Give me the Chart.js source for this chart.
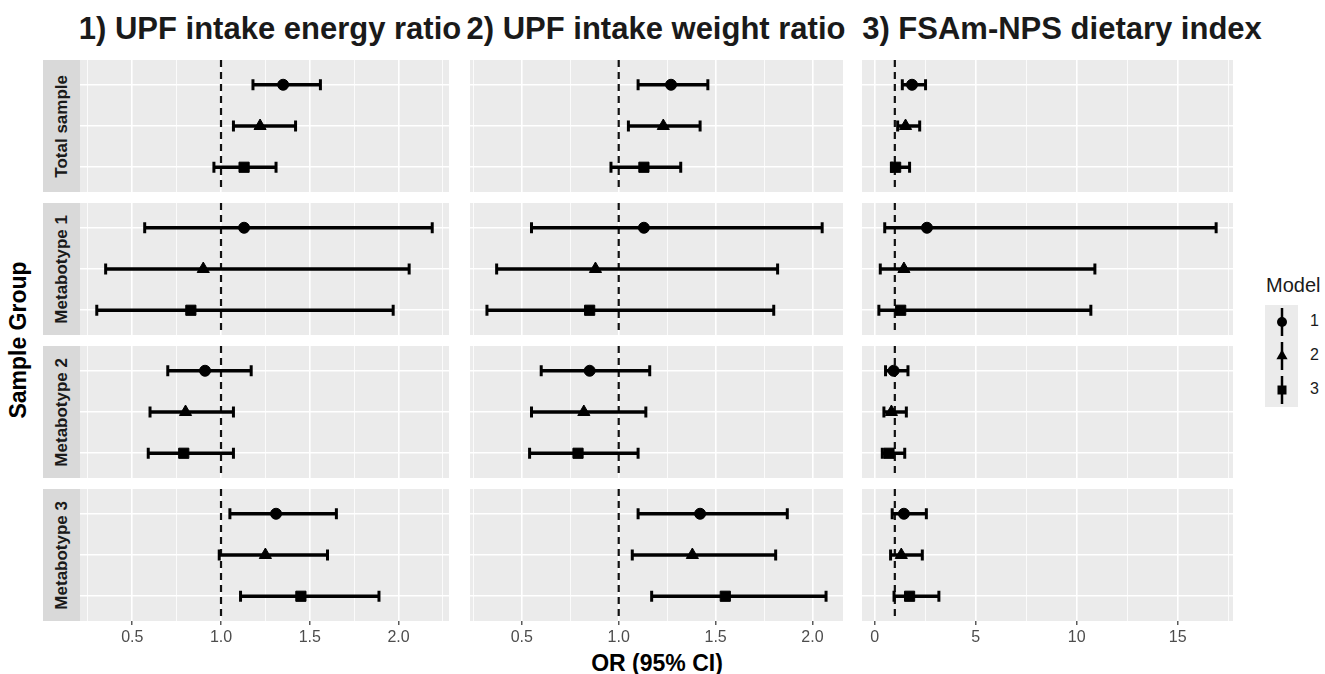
<!DOCTYPE html>
<html>
<head>
<meta charset="utf-8">
<script src="https://cdn.jsdelivr.net/npm/chart.js@4.4.0/dist/chart.umd.min.js"></script>
<style>
  body { margin: 0; background: #fff; font-family: 'Liberation Sans', Arial, sans-serif; }
  #fig { position: relative; width: 1325px; height: 674px; overflow: hidden; }
  .panel { position: absolute; }
  .col-title { position: absolute; top: 11px; transform: translateX(-50%); font-weight: bold; font-size: 31px; color: #1a1a1a; white-space: nowrap; }
  .strip { position: absolute; left: 43px; width: 37px; background: #d9d9d9; display: flex; align-items: center; justify-content: center; }
  .strip span { writing-mode: vertical-rl; transform: rotate(180deg); font-weight: bold; font-size: 17px; color: #1a1a1a; white-space: nowrap; }
  #ytitle { position: absolute; left: 18px; top: 340px; transform: translate(-50%, -50%) rotate(-90deg); font-weight: bold; font-size: 23px; white-space: nowrap; }
  #xtitle { position: absolute; left: 657px; top: 663px; transform: translate(-50%, -50%); font-weight: bold; font-size: 23px; white-space: nowrap; }
  #legend-title { position: absolute; left: 1266px; top: 274px; font-size: 20px; color: #1a1a1a; }
  .leg-lab { position: absolute; left: 1310px; font-size: 16px; color: #1a1a1a; }
  #legend-keys { position: absolute; left: 1265px; top: 305px; }
</style>
</head>
<body>
<div id="fig">
  <div id="ytitle">Sample Group</div>
  <div id="xtitle">OR (95% CI)</div>
  <div id="legend-title">Model</div>
  <svg id="legend-keys" width="34" height="103"></svg>
</div>
<script>
// facets
const measures = ['1) UPF intake energy ratio', '2) UPF intake weight ratio', '3) FSAm-NPS dietary index'];
const groups = ['Total sample', 'Metabotype 1', 'Metabotype 2', 'Metabotype 3'];
const models = ['1', '2', '3'];

// OR and 95% CI, rows = sample group, columns = model 1..3
const energyOR = [[1.35, 1.22, 1.13], [1.13, 0.90, 0.83], [0.91, 0.80, 0.79], [1.31, 1.25, 1.45]];
const energyLo = [[1.18, 1.07, 0.96], [0.57, 0.35, 0.30], [0.70, 0.60, 0.59], [1.05, 0.99, 1.11]];
const energyHi = [[1.56, 1.42, 1.31], [2.19, 2.06, 1.97], [1.17, 1.07, 1.07], [1.65, 1.60, 1.89]];

const weightOR = [[1.27, 1.23, 1.13], [1.13, 0.88, 0.85], [0.85, 0.82, 0.79], [1.42, 1.38, 1.55]];
const weightLo = [[1.10, 1.05, 0.96], [0.55, 0.37, 0.32], [0.60, 0.55, 0.54], [1.10, 1.07, 1.17]];
const weightHi = [[1.46, 1.42, 1.32], [2.05, 1.82, 1.80], [1.16, 1.14, 1.10], [1.87, 1.81, 2.07]];

const fsaOR = [[1.85, 1.53, 1.04], [2.59, 1.45, 1.29], [0.94, 0.83, 0.71], [1.45, 1.32, 1.73]];
const fsaLo = [[1.37, 1.14, 0.83], [0.50, 0.28, 0.21], [0.54, 0.46, 0.38], [0.87, 0.79, 0.96]];
const fsaHi = [[2.52, 2.23, 1.73], [16.9, 10.9, 10.7], [1.65, 1.57, 1.49], [2.56, 2.36, 3.18]];

// axis tick labels
const orTicks = [0.5, 1.0, 1.5, 2.0];
const fsaTicks = [0, 5, 10, 15];

const shapes = ['circle', 'triangle', 'rect'];
const shapeSize = [5.5, 7, 7.2];

const columns = [
  { est: energyOR, lo: energyLo, hi: energyHi, ticks: orTicks, digits: 1, left: 80, right: 449, titleX: 270 },
  { est: weightOR, lo: weightLo, hi: weightHi, ticks: orTicks, digits: 1, left: 470, right: 843, titleX: 656 },
  { est: fsaOR, lo: fsaLo, hi: fsaHi, ticks: fsaTicks, digits: 0, left: 862, right: 1233, titleX: 1062 }
];
const rowTops = [60, 203, 346, 489];
const rowH = 132;
const fig = document.getElementById('fig');

const panelBg = {
  id: 'panelBg',
  beforeDraw(chart) {
    const a = chart.chartArea, ctx = chart.ctx;
    ctx.save();
    ctx.fillStyle = '#ebebeb';
    ctx.fillRect(a.left, a.top, a.right - a.left, a.bottom - a.top);
    ctx.restore();
  }
};

function makePanel(ci, r) {
  const c = columns[ci];
  const all = c.lo.flat().concat(c.hi.flat());
  const dmin = Math.min(...all), dmax = Math.max(...all);
  const pad = (dmax - dmin) * 0.05;
  const xmin = dmin - pad, xmax = dmax + pad;
  const bottom = r === groups.length - 1;

  // major + minor grid positions
  const step = c.ticks[1] - c.ticks[0];
  const grid = [];
  for (let i = -1; i <= c.ticks.length; i++) {
    const v = c.ticks[0] + i * step;
    [v, v + step / 2].forEach(g => { if (g >= xmin && g <= xmax) grid.push(+g.toFixed(4)); });
  }
  const isMajor = v => c.ticks.some(t => Math.abs(t - v) < 1e-6);

  const box = document.createElement('div');
  box.className = 'panel';
  box.style.left = c.left + 'px';
  box.style.top = rowTops[r] + 'px';
  box.style.width = (c.right - c.left) + 'px';
  box.style.height = (rowH + (bottom ? 30 : 0)) + 'px';
  const cv = document.createElement('canvas');
  box.appendChild(cv);
  fig.appendChild(box);

  const datasets = [];
  models.forEach((m, i) => {
    datasets.push({
      data: [{ x: c.lo[r][i], y: i + 1 }, { x: c.hi[r][i], y: i + 1 }],
      showLine: true, borderColor: '#000', borderWidth: 3.5,
      pointStyle: 'line', rotation: 90, pointRadius: 5.5,
      pointBorderWidth: 3, pointBorderColor: '#000', order: 1
    });
  });
  datasets.push({
    data: models.map((m, i) => ({ x: c.est[r][i], y: i + 1 })),
    pointStyle: shapes, pointRadius: shapeSize,
    backgroundColor: '#000', borderColor: '#000', borderWidth: 1, order: 0
  });
  datasets.push({
    data: [{ x: 1, y: 0.4 }, { x: 1, y: models.length + 0.6 }],
    showLine: true, borderColor: '#111', borderWidth: 2.2, borderDash: [7, 5],
    pointRadius: 0, order: 2
  });

  new Chart(cv, {
    type: 'scatter',
    data: { datasets },
    options: {
      responsive: true, maintainAspectRatio: false, animation: false,
      layout: { padding: 0, autoPadding: false },
      plugins: { legend: { display: false }, tooltip: { enabled: false } },
      scales: {
        x: {
          type: 'linear', min: xmin, max: xmax,
          border: { display: false },
          afterBuildTicks: s => { s.ticks = grid.map(v => ({ value: v })); },
          afterFit: s => { s.height = bottom ? 30 : 0; },
          grid: {
            color: '#fff',
            lineWidth: ctx => isMajor(ctx.tick.value) ? 1.6 : 0.8,
            drawTicks: bottom, tickLength: 4, tickWidth: 1.2,
            tickColor: ctx => isMajor(ctx.tick.value) ? '#333' : 'rgba(0,0,0,0)'
          },
          ticks: {
            display: bottom, autoSkip: false, maxRotation: 0, padding: 3,
            color: '#4d4d4d', font: { size: 16, family: "'Liberation Sans', Arial" },
            callback: v => isMajor(v) ? v.toFixed(c.digits) : ''
          }
        },
        y: {
          type: 'linear', min: 0.4, max: models.length + 0.6, reverse: true,
          border: { display: false },
          afterBuildTicks: s => { s.ticks = models.map((m, i) => ({ value: i + 1 })); },
          afterFit: s => { s.width = 0; },
          grid: { color: '#fff', lineWidth: 1.6, drawTicks: false },
          ticks: { display: false }
        }
      }
    },
    plugins: [panelBg]
  });
}

// column titles
columns.forEach((c, ci) => {
  const t = document.createElement('div');
  t.className = 'col-title';
  t.style.left = c.titleX + 'px';
  t.textContent = measures[ci];
  fig.appendChild(t);
});

// row strips
groups.forEach((g, r) => {
  const s = document.createElement('div');
  s.className = 'strip';
  s.style.top = rowTops[r] + 'px';
  s.style.height = rowH + 'px';
  s.innerHTML = '<span>' + g + '</span>';
  fig.appendChild(s);
});

for (let r = 0; r < groups.length; r++) {
  for (let ci = 0; ci < columns.length; ci++) makePanel(ci, r);
}

// legend
const svg = document.getElementById('legend-keys');
const ns = 'http://www.w3.org/2000/svg';
function el(name, attrs) {
  const e = document.createElementNS(ns, name);
  for (const k in attrs) e.setAttribute(k, attrs[k]);
  svg.appendChild(e);
  return e;
}
models.forEach((m, i) => {
  const y0 = i * 34;
  const cy = y0 + 17;
  el('rect', { x: 0, y: y0, width: 33, height: 34, fill: '#ebebeb' });
  el('line', { x1: 17, x2: 17, y1: y0 + 3, y2: y0 + 31, stroke: '#000', 'stroke-width': 2.5 });
  if (shapes[i] === 'circle') el('circle', { cx: 17, cy: cy, r: 5, fill: '#000' });
  if (shapes[i] === 'triangle') el('polygon', { points: '17,' + (cy - 6.5) + ' 22.6,' + (cy + 3.3) + ' 11.4,' + (cy + 3.3), fill: '#000' });
  if (shapes[i] === 'rect') el('rect', { x: 12.5, y: cy - 4.5, width: 9, height: 9, fill: '#000' });
  const lab = document.createElement('div');
  lab.className = 'leg-lab';
  lab.style.top = (305 + cy - 10) + 'px';
  lab.textContent = m;
  fig.appendChild(lab);
});
</script>
</body>
</html>
